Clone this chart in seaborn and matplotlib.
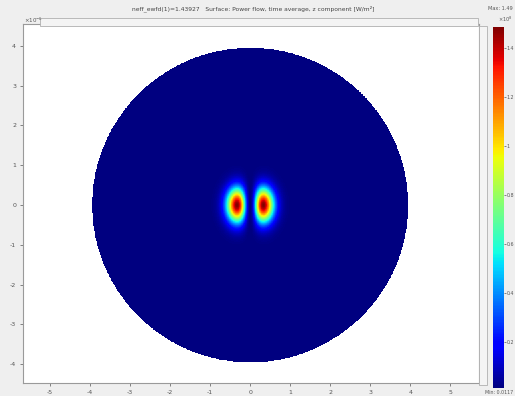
import numpy as np
import pandas as pd
import matplotlib
matplotlib.use("Agg")
import matplotlib.pyplot as plt
from matplotlib.patches import Rectangle
import seaborn as sns

# ---- data ----
title_text = "neff_ewfd(1)=1.43927   Surface: Power flow, time average, z component [W/m\u00b2]"
x_ticks = [-5, -4, -3, -2, -1, 0, 1, 2, 3, 4, 5]
y_ticks = [-4, -3, -2, -1, 0, 1, 2, 3, 4]
cbar_ticks = [0.2, 0.4, 0.6, 0.8, 1.0, 1.2, 1.4]
cbar_labels = ["0.2", "0.4", "0.6", "0.8", "1", "1.2", "1.4"]
x_limits = [-5.68, 5.72]
y_limits = [-4.47, 4.55]
disk_radius = 3.95          # core/cladding domain radius (x1e-6 m)
lobe_offset = 0.33          # lobe centre distance from axis
lobe_height = 0.42          # lobe vertical 1/e width
field_peak = 1.486
field_floor = 0.012
max_label = "Max: 1.49"
min_label = "Min: 0.0117"

sns.set_style("white")
plt.rcParams["font.family"] = ["DejaVu Sans"]

fig = plt.figure(figsize=(5.15, 3.96), dpi=100, facecolor="#efefef")

# grid
step = 0.01
xs = np.arange(x_limits[0] + step / 2, x_limits[1], step)
ys = np.arange(y_limits[1] - step / 2, y_limits[0], -step)
X, Y = np.meshgrid(xs, ys)
u = X / lobe_offset
field = field_floor + (field_peak - field_floor) * u**2 * np.exp(1 - u**2) * np.exp(-(Y / lobe_height) ** 2)
mask = X**2 + Y**2 > disk_radius**2
df = pd.DataFrame(field)

ax = fig.add_axes([23 / 515, 1 - 383 / 396, 456 / 515, 359 / 396])
cax = fig.add_axes([493 / 515, 1 - 388 / 396, 11 / 515, 361 / 396])
sns.heatmap(df, mask=mask, cmap="jet", vmin=field_floor, vmax=field_peak,
            xticklabels=False, yticklabels=False, ax=ax, cbar_ax=cax,
            rasterized=True)
ax.set_facecolor("white")

xpos = [(v - x_limits[0]) / step for v in x_ticks]
ypos = [(y_limits[1] - v) / step for v in y_ticks]
ax.set_xticks(xpos)
ax.set_xticklabels([str(v) for v in x_ticks])
ax.set_yticks(ypos)
ax.set_yticklabels([str(v) for v in y_ticks])
ax.tick_params(axis="both", labelsize=4.5, colors="#555555", length=2, width=0.5,
               direction="out", bottom=True, left=True, pad=3)
for s in ax.spines.values():
    s.set_visible(True)
    s.set_color("#9a9a9a")
    s.set_linewidth(0.8)
ax.set_xlabel("")
ax.set_ylabel("")

cax.set_yticks(cbar_ticks)
cax.set_yticklabels(cbar_labels)
cax.tick_params(labelsize=3.4, colors="#555555", length=1.5, width=0.5, pad=0.5)
for s in cax.spines.values():
    s.set_visible(False)

# UI bars (top horizontal, right vertical)
fig.patches.append(Rectangle((40 / 515, 1 - 26 / 396), 438 / 515, 8 / 396,
                             transform=fig.transFigure, facecolor="#f4f4f4",
                             edgecolor="#b0b0b0", linewidth=0.6))
fig.patches.append(Rectangle((479 / 515, 1 - 385 / 396), 8 / 515, 359 / 396,
                             transform=fig.transFigure, facecolor="#f4f4f4",
                             edgecolor="#b0b0b0", linewidth=0.6))

fig.text(253 / 515, 1 - 9 / 396, title_text, ha="center", va="center",
         fontsize=4.3, color="#444444")
fig.text(24 / 515, 1 - 20 / 396, "\u00d710$^{-6}$", ha="left", va="center",
         fontsize=4, color="#555555")
fig.text(513 / 515, 1 - 9 / 396, max_label, ha="right", va="center",
         fontsize=3.6, color="#555555")
fig.text(513 / 515, 1 - 19 / 396, "\u00d710$^{8}$", ha="right", va="center",
         fontsize=3.6, color="#555555")
fig.text(513 / 515, 1 - 392 / 396, min_label, ha="right", va="center",
         fontsize=3.4, color="#555555")

fig.savefig("out.png", dpi=100, facecolor=fig.get_facecolor())
